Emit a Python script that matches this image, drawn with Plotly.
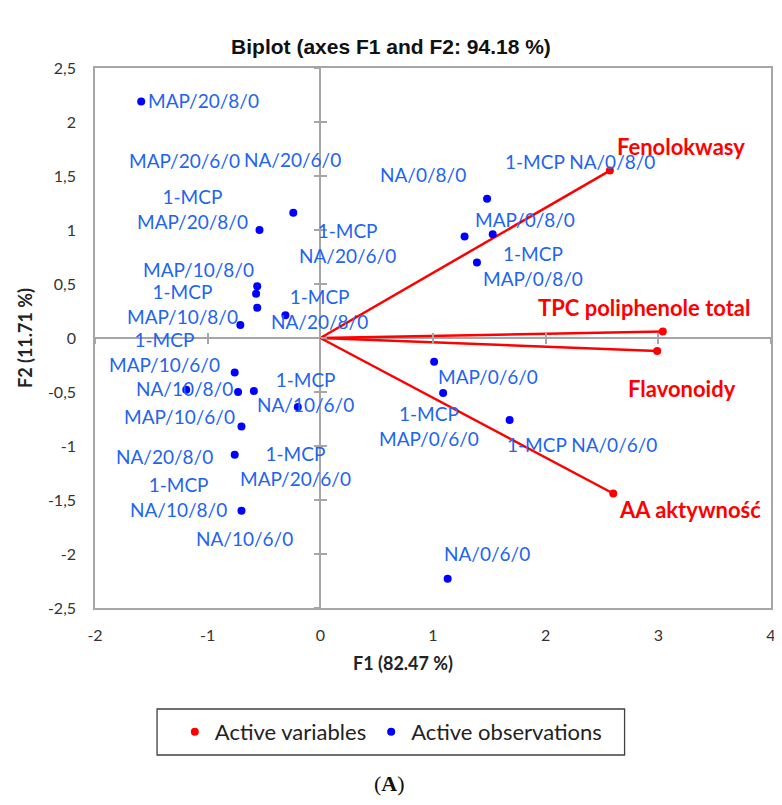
import plotly.graph_objects as go

# ---------------- data ----------------
obs_names = [
    "MAP/20/8/0", "1-MCP NA/20/6/0", "1-MCP MAP/20/8/0", "MAP/10/8/0",
    "1-MCP MAP/10/8/0", "NA/20/6/0", "1-MCP MAP/10/6/0", "1-MCP NA/20/8/0",
    "MAP/20/6/0", "NA/10/8/0", "MAP/10/6/0", "1-MCP NA/10/6/0",
    "1-MCP MAP/20/6/0", "NA/20/8/0", "1-MCP NA/10/8/0", "NA/10/6/0",
    "1-MCP NA/0/8/0", "NA/0/8/0", "MAP/0/8/0", "1-MCP MAP/0/8/0",
    "MAP/0/6/0", "1-MCP MAP/0/6/0", "1-MCP NA/0/6/0", "NA/0/6/0",
]
obs_f1 = [-1.59, -0.24, -0.54, -0.56, -0.57, -0.56, -0.71, -0.31,
          -0.76, -1.19, -0.73, -0.59, -0.20, -0.70, -0.76, -0.70,
          1.48, 1.28, 1.53, 1.39, 1.01, 1.09, 1.68, 1.13]
obs_f2 = [2.19, 1.16, 1.00, 0.48, 0.41, 0.28, 0.12, 0.21,
          -0.32, -0.48, -0.50, -0.49, -0.64, -0.82, -1.08, -1.60,
          1.29, 0.94, 0.96, 0.70, -0.22, -0.51, -0.76, -2.23]

var_names = ["Fenolokwasy", "TPC poliphenole total", "Flavonoidy", "AA aktywność"]
var_f1 = [2.57, 3.04, 2.99, 2.60]
var_f2 = [1.55, 0.06, -0.12, -1.44]

x_ticks = [-2, -1, 0, 1, 2, 3, 4]
x_ticktext = ["-2", "-1", "0", "1", "2", "3", "4"]
y_ticks = [-2.5, -2, -1.5, -1, -0.5, 0, 0.5, 1, 1.5, 2, 2.5]
y_ticktext = ["-2,5", "-2", "-1,5", "-1", "-0,5", "0", "0,5", "1", "1,5", "2", "2,5"]

# ---------------- label placement (pixel shifts from each point) ----------------
obs_label_shift = [
    (62, 1), (54, -30), (-67, 21), (-59, 17), (-74, -10), (35, 148), (-76, -27), (34, 6),
    (-50, 212), (-2, 1), (-59, -24), (52, -1), (-2, -59), (-77, -30), (-56, -42), (3, -28),
    (93, 37), (-42, 62), (32, 15), (56, -4), (54, -15), (-14, -33), (72, -24), (39, 25),
]
obs_label_two_lines = [
    False, True, True, False, True, False, True, True,
    False, False, False, True, True, False, True, False,
    False, False, False, True, False, True, False, False,
]
var_label_shift = [(71, 24), (-18, 24), (25, -38), (77, -16)]

BLUE_DOT = "#0000ff"
BLUE_TXT = "#1e64f0"
RED = "#ff0000"
GRAY = "#a6a6a6"
LABEL_FONT = "Lato, Carlito, Calibri, sans-serif"

# the page body adds an 8px offset; the figure is sized to compensate
PAGE_OFFSET = 8
W, H = 782 - PAGE_OFFSET, 805 - PAGE_OFFSET

fig = go.Figure()

# variable vectors
for i in range(len(var_names)):
    fig.add_trace(go.Scatter(
        x=[0, var_f1[i]], y=[0, var_f2[i]], mode="lines",
        line=dict(color=RED, width=2.5), showlegend=False, hoverinfo="skip"))

fig.add_trace(go.Scatter(
    x=var_f1, y=var_f2, mode="markers", name="Active variables",
    marker=dict(color=RED, size=8)))

fig.add_trace(go.Scatter(
    x=obs_f1, y=obs_f2, mode="markers", name="Active observations",
    marker=dict(color=BLUE_DOT, size=8)))

# empty traces so the overlay tick axes on the zero lines get drawn
fig.add_trace(go.Scatter(x=[], y=[], xaxis="x2", yaxis="y", showlegend=False))
fig.add_trace(go.Scatter(x=[], y=[], xaxis="x3", yaxis="y", showlegend=False))
fig.add_trace(go.Scatter(x=[], y=[], xaxis="x", yaxis="y2", showlegend=False))
fig.add_trace(go.Scatter(x=[], y=[], xaxis="x", yaxis="y3", showlegend=False))

annotations = []
for name, fx, fy, (dx, dy), two in zip(obs_names, obs_f1, obs_f2,
                                        obs_label_shift, obs_label_two_lines):
    txt = name.replace(" ", "<br>") if two else name
    annotations.append(dict(
        x=fx, y=fy, xref="x", yref="y", text=txt, showarrow=False,
        xshift=dx, yshift=dy, align="center", xanchor="center", yanchor="middle",
        font=dict(family=LABEL_FONT, size=19, color=BLUE_TXT)))

for name, fx, fy, (dx, dy) in zip(var_names, var_f1, var_f2, var_label_shift):
    annotations.append(dict(
        x=fx, y=fy, xref="x", yref="y", text="<b>" + name + "</b>", showarrow=False,
        xshift=dx, yshift=dy, xanchor="center", yanchor="middle",
        font=dict(family=LABEL_FONT, size=22, color=RED)))

# axis titles
annotations.append(dict(
    x=0.456, y=-0.102, xref="paper", yref="paper", text="<b>F1 (82.47 %)</b>",
    xanchor="center", yanchor="middle",
    showarrow=False, font=dict(family=LABEL_FONT, size=18, color="#222222")))
annotations.append(dict(
    x=-0.1035, y=0.5, xref="paper", yref="paper", text="<b>F2 (11.71 %)</b>",
    xanchor="center", yanchor="middle",
    showarrow=False, textangle=-90, font=dict(family=LABEL_FONT, size=18, color="#222222")))
# panel label
annotations.append(dict(
    x=0.4354, y=-0.325, xref="paper", yref="paper", text="(<b>A</b>)",
    xanchor="center", yanchor="middle",
    showarrow=False, font=dict(family="Liberation Serif, Times New Roman, serif",
                               size=22, color="#111111")))

tick_font = dict(family=LABEL_FONT, size=16, color="#333333")

fig.update_layout(
    width=W, height=H,
    margin=dict(l=94.5 - PAGE_OFFSET, r=6.5, t=68 - PAGE_OFFSET, b=197),
    paper_bgcolor="white", plot_bgcolor="white",
    title=dict(text="<b>Biplot (axes F1 and F2: 94.18 %)</b>",
               x=0.5 - PAGE_OFFSET / 2 / W, xanchor="center",
               y=1 - (47 - PAGE_OFFSET) / H, yanchor="middle",
               font=dict(family="Liberation Sans Narrow, Arial Narrow, Liberation Sans, Arial",
                         size=21, color="#111111")),
    xaxis=dict(range=[-2, 4], tickvals=x_ticks, ticktext=x_ticktext,
               showgrid=False, zeroline=True, zerolinecolor=GRAY, zerolinewidth=1.5,
               showline=True, mirror=True, linecolor=GRAY, linewidth=1.5,
               ticks="", ticklabelstandoff=12, tickfont=tick_font, fixedrange=True),
    yaxis=dict(range=[-2.5, 2.5], tickvals=y_ticks, ticktext=y_ticktext,
               showgrid=False, zeroline=True, zerolinecolor=GRAY, zerolinewidth=1.5,
               showline=True, mirror=True, linecolor=GRAY, linewidth=1.5,
               ticks="", ticklabelstandoff=14, tickfont=tick_font, fixedrange=True),
    xaxis2=dict(range=[-2, 4], overlaying="x", anchor="free", position=0.5,
                tickvals=x_ticks, ticks="outside", ticklen=5, tickcolor=GRAY,
                tickwidth=1.5, showticklabels=False, showline=False, showgrid=False,
                zeroline=False),
    xaxis3=dict(range=[-2, 4], overlaying="x", anchor="free", position=0.5,
                tickvals=x_ticks, ticks="inside", ticklen=5, tickcolor=GRAY,
                tickwidth=1.5, showticklabels=False, showline=False, showgrid=False,
                zeroline=False),
    yaxis2=dict(range=[-2.5, 2.5], overlaying="y", anchor="free", position=1 / 3,
                tickvals=y_ticks, ticks="outside", ticklen=6, tickcolor=GRAY,
                tickwidth=1.5, showticklabels=False, showline=False, showgrid=False,
                zeroline=False),
    yaxis3=dict(range=[-2.5, 2.5], overlaying="y", anchor="free", position=1 / 3,
                tickvals=y_ticks, ticks="inside", ticklen=6, tickcolor=GRAY,
                tickwidth=1.5, showticklabels=False, showline=False, showgrid=False,
                zeroline=False),
    legend=dict(orientation="h", x=0.4376, xanchor="center", y=-0.2296, yanchor="middle",
                font=dict(family=LABEL_FONT, size=22, color="#222222"),
                bgcolor="rgba(0,0,0,0)", borderwidth=0, itemclick=False),
    shapes=[dict(type="rect", xref="paper", yref="paper",
                 x0=0.0918, x1=0.7834, y0=-0.187, y1=-0.2722,
                 line=dict(color="#404040", width=1.3), fillcolor="rgba(0,0,0,0)")],
    annotations=annotations,
    showlegend=True,
)

fig.write_html("out.html")
